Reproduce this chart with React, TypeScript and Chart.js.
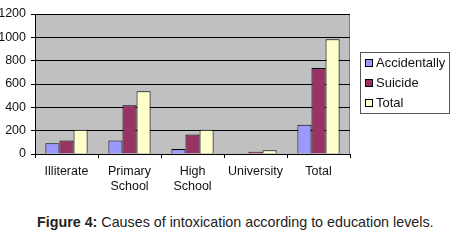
import React, { useEffect, useRef } from "react";
import { Chart, registerables } from "chart.js";

Chart.register(...registerables);

const categories: string[][] = [["Illiterate"], ["Primary", "School"], ["High", "School"], ["University"], ["Total"]];
const seriesNames = ["Accidentally", "Suicide", "Total"];
const accidentally = [92, 115, 42, 0, 250];
const suicide = [115, 418, 168, 20, 738];
const total = [207, 537, 208, 33, 983];
const seriesColors = ["#9999ff", "#993366", "#ffffcc"];
const yTicks = [0, 200, 400, 600, 800, 1000, 1200];

const FONT = "Arial, 'Liberation Sans', sans-serif";

const bgPlugin = {
  id: "plotBg",
  beforeDraw(chart: any) {
    const { ctx, chartArea } = chart;
    ctx.save();
    ctx.fillStyle = "#c0c0c0";
    ctx.fillRect(chartArea.left, chartArea.top, chartArea.right - chartArea.left, chartArea.bottom - chartArea.top);
    ctx.strokeStyle = "#808080";
    ctx.lineWidth = 1;
    ctx.beginPath();
    ctx.moveTo(Math.round(chartArea.right) - 0.5, chartArea.top);
    ctx.lineTo(Math.round(chartArea.right) - 0.5, chartArea.bottom);
    ctx.stroke();
    ctx.restore();
  },
  afterDraw(chart: any) {
    const { ctx } = chart;
    const x0 = 360.5, y0 = 52.5, w = 89, h = 61;
    ctx.save();
    ctx.fillStyle = "#ffffff";
    ctx.fillRect(x0, y0, w, h);
    ctx.strokeStyle = "#555555";
    ctx.lineWidth = 1;
    ctx.strokeRect(x0, y0, w, h);
    ctx.font = `13px ${FONT}`;
    ctx.textBaseline = "middle";
    ctx.textAlign = "left";
    chart.data.datasets.forEach((ds: any, i: number) => {
      const cy = 63 + i * 20;
      ctx.fillStyle = ds.backgroundColor;
      ctx.fillRect(365.5, cy - 3.5, 7, 7);
      ctx.strokeStyle = "#000";
      ctx.strokeRect(365.5, cy - 3.5, 7, 7);
      ctx.fillStyle = "#111";
      ctx.fillText(ds.label, 376, cy + 0.5);
    });
    ctx.restore();
  },
};

export default function App() {
  const ref = useRef<HTMLCanvasElement>(null);
  useEffect(() => {
    if (!ref.current) return;
    const chart = new Chart(ref.current, {
      type: "bar",
      data: {
        labels: categories,
        datasets: [accidentally, suicide, total].map((d, i) => ({
          label: seriesNames[i],
          data: d,
          backgroundColor: seriesColors[i],
          borderColor: "#000000",
          borderWidth: 1,
          categoryPercentage: 0.67,
          barPercentage: 1,
        })),
      },
      options: {
        animation: false,
        responsive: false,
        maintainAspectRatio: false,
        layout: { padding: { top: 14, right: 105, left: 0, bottom: 0 } },
        plugins: { legend: { display: false }, tooltip: { enabled: false } },
        scales: {
          x: {
            grid: { drawOnChartArea: false, drawTicks: true, tickLength: 4, color: "#000", offset: true },
            border: { color: "#000", width: 1 },
            ticks: { color: "#111", font: { family: FONT, size: 12.5 }, padding: 6, maxRotation: 0 },
          },
          y: {
            min: 0,
            max: 1200,
            afterFit(scale: any) {
              scale.width = 35;
            },
            afterBuildTicks(scale: any) {
              scale.ticks = yTicks.map((v) => ({ value: v }));
            },
            grid: { color: "#000", tickLength: 4, drawTicks: true },
            border: { color: "#000", width: 1 },
            ticks: {
              color: "#111",
              font: { family: FONT, size: 12.5 },
              padding: 5,
              callback: (v: any) => String(v),
            },
          },
        },
      },
      plugins: [bgPlugin],
    });
    return () => chart.destroy();
  }, []);
  return (
    <div style={{ position: "absolute", left: 0, top: 0, width: 455, height: 240, background: "#fff" }}>
      <canvas ref={ref} width={455} height={200} style={{ display: "block", width: 455, height: 200 }} />
      <div
        style={{
          position: "absolute",
          left: 37,
          top: 213,
          fontFamily: FONT,
          fontSize: 14.3,
          color: "#222",
          whiteSpace: "nowrap",
          lineHeight: "18px",
        }}
      >
        <b>Figure 4:</b> Causes of intoxication according to education levels.
      </div>
    </div>
  );
}
